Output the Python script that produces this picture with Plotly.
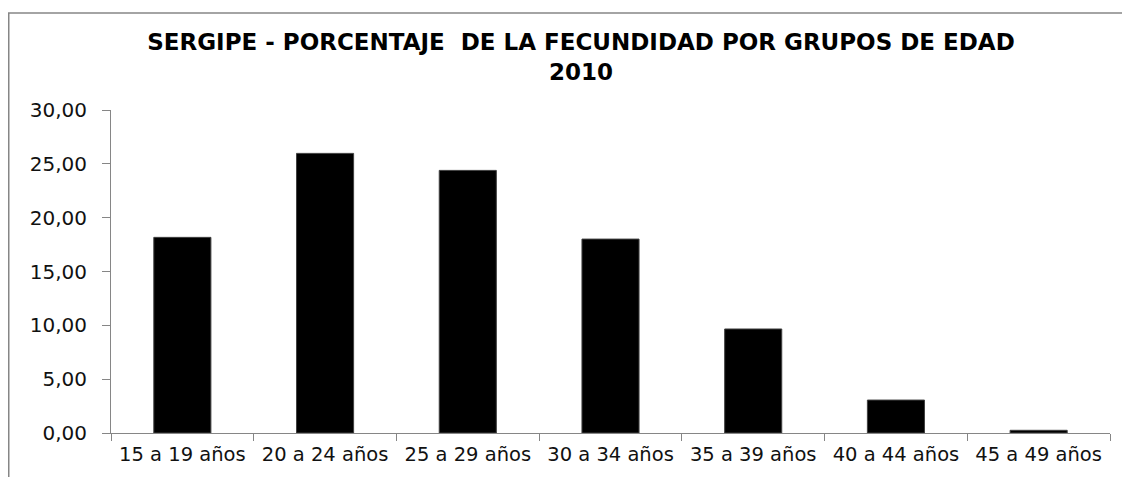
import plotly.graph_objects as go

categories = ["15 a 19 años", "20 a 24 años", "25 a 29 años", "30 a 34 años",
              "35 a 39 años", "40 a 44 años", "45 a 49 años"]
values = [18.17, 25.97, 24.39, 18.01, 9.66, 3.06, 0.25]
y_ticks = [0, 5, 10, 15, 20, 25, 30]
y_tick_labels = ["0,00", "5,00", "10,00", "15,00", "20,00", "25,00", "30,00"]

# page body adds an 8px offset; figure is sized to fill the rest of the window
W, H = 1122, 469
ml, mr, mt, mb = 103, 20, 102, 44

fig = go.Figure(go.Bar(
    x=categories, y=values,
    marker=dict(color="#000000", line=dict(color="#404040", width=1)),
    width=0.4,
))

axis_col = "#868686"
fig.update_layout(
    width=W, height=H,
    margin=dict(l=ml, r=mr, t=mt, b=mb),
    paper_bgcolor="white", plot_bgcolor="white",
    showlegend=False,
    title=dict(
        text="SERGIPE - PORCENTAJE  DE LA FECUNDIDAD POR GRUPOS DE EDAD<br>2010",
        x=573 / W, xref="container", xanchor="center",
        y=1 - 42 / H, yref="container", yanchor="top",
        font=dict(family="DejaVu Sans", size=23, color="#000000", weight="bold"),
    ),
    xaxis=dict(
        showline=True, linecolor=axis_col, linewidth=1,
        ticks="outside", tickson="boundaries", ticklen=7, tickcolor=axis_col,
        ticklabelstandoff=4,
        tickfont=dict(family="DejaVu Sans", size=19.5, color="#111111"),
        showgrid=False, zeroline=False,
    ),
    yaxis=dict(
        range=[0, 30], tickvals=y_ticks, ticktext=y_tick_labels,
        showline=True, linecolor=axis_col, linewidth=1,
        ticks="outside", ticklen=8, tickcolor=axis_col,
        ticklabelstandoff=11,
        tickfont=dict(family="DejaVu Sans", size=20, color="#111111"),
        showgrid=False, zeroline=False,
    ),
)

# chart-area border (left and top edges visible)
pw = W - ml - mr
ph = H - mt - mb
fig.add_shape(type="rect", xref="paper", yref="paper",
              x0=(0.75 - ml) / pw, x1=(W + 10 - ml) / pw,
              y0=-(H + 10 - mt - ph) / ph, y1=1 + (mt - 5) / ph,
              line=dict(color=axis_col, width=1.5), fillcolor="rgba(0,0,0,0)",
              layer="below")

fig.write_html("out.html")
